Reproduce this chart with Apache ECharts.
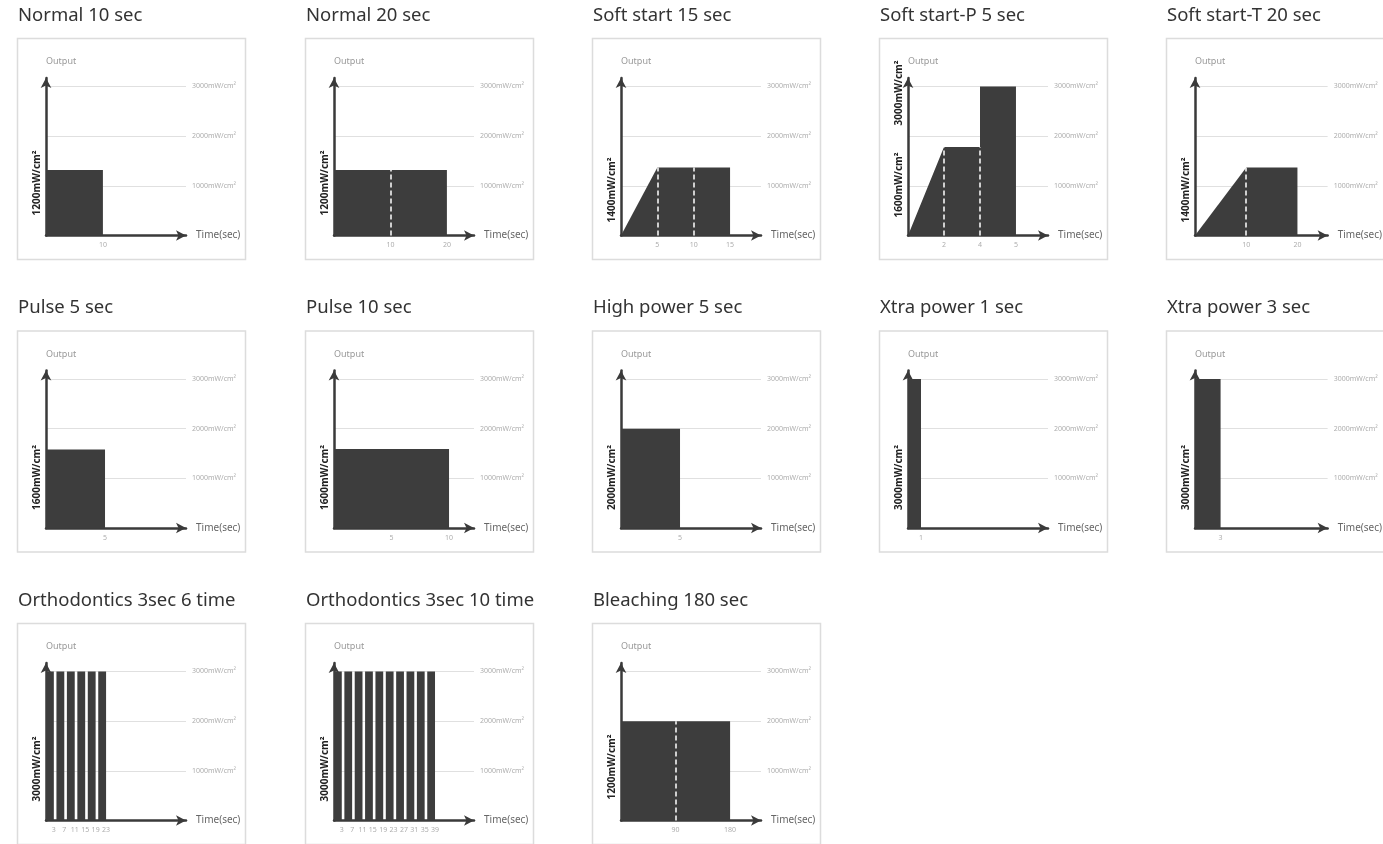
<!DOCTYPE html>
<html><head><meta charset="utf-8">
<script src="https://cdn.jsdelivr.net/npm/echarts@6/dist/echarts.min.js"></script>
<style>html,body{margin:0;padding:0;background:#fff}#c{width:1383px;height:844px}</style>
</head><body><div id="c"></div>
<script>
// ---- titles ----
const titles = ['Normal 10 sec','Normal 20 sec','Soft start 15 sec','Soft start-P 5 sec','Soft start-T 20 sec',
  'Pulse 5 sec','Pulse 10 sec','High power 5 sec','Xtra power 1 sec','Xtra power 3 sec',
  'Orthodontics 3sec 6 time','Orthodontics 3sec 10 time','Bleaching 180 sec'];

// ---- output profiles [time, mW/cm²] as drawn ----
const normal10 = [[0,1320],[10,1320]];
const normal20 = [[0,1320],[20,1320]];
const softStart15 = [[0,0],[5,1370],[15,1370]];
const softStartP = [[0,0],[2,1780],[4,1780],[4,3000],[6,3000]]; // drawn positions (last step drawn wider)
const softStartT = [[0,0],[10,1370],[20,1370]];
const pulse5 = [[0,1580],[5,1580]];
const pulse10 = [[0,1590],[10,1590]];
const highPower5 = [[0,2000],[5,2000]];
const xtra1 = [[0,3000],[1,3000]];
const xtra3 = [[0,3000],[3,3000]];
const ortho6Pulses = [[0,3],[4,7],[8,11],[12,15],[16,19],[20,23]];
const ortho10Pulses = [[0,3],[4,7],[8,11],[12,15],[16,19],[20,23],[24,27],[28,31],[32,35],[36,39]];
const orthoLevel = 3000;
const bleaching180 = [[0,2000],[180,2000]];

// ---- tick positions and labels ----
const normal10Ticks = [10];
const normal20Ticks = [10,20];
const softStart15Ticks = [5,10,15];
const softStartPTicks = [2,4,6];
const softStartPTickLabels = ['2','4','5'];
const softStartTTicks = [10,20];
const pulse5Ticks = [5];
const pulse10Ticks = [5,10];
const highPower5Ticks = [5];
const xtra1Ticks = [1];
const xtra3Ticks = [3];
const ortho6Ticks = [3,7,11,15,19,23];
const ortho10Ticks = [3,7,11,15,19,23,27,31,35,39];
const bleachingTicks = [90,180];

// ---- dashed segment dividers [time, top value] ----
const normal20Dashes = [[10,1320]];
const softStart15Dashes = [[5,1370],[10,1370]];
const softStartPDashes = [[2,1780],[4,1780]];
const softStartTDashes = [[10,1370]];
const bleachingDashes = [[90,2000]];

// ---- power labels ----
const powerLabels = ['1200mW/cm²','1200mW/cm²','1400mW/cm²',['1600mW/cm²','3000mW/cm²'],'1400mW/cm²',
  '1600mW/cm²','1600mW/cm²','2000mW/cm²','3000mW/cm²','3000mW/cm²','3000mW/cm²','3000mW/cm²','1200mW/cm²'];

const gridValues = [1000,2000,3000];

// each pulse becomes its own rectangle profile
function pulsesToProfiles(pulses, level){
  return pulses.map(p => [[p[0], level], [p[1], level]]);
}

const panels = [
  {profiles: [normal10], ticks: normal10Ticks, xMax: 24.6, dashes: [], lab: [20]},
  {profiles: [normal20], ticks: normal20Ticks, xMax: 24.8, dashes: normal20Dashes, lab: [20]},
  {profiles: [softStart15], ticks: softStart15Ticks, xMax: 19.26, dashes: softStart15Dashes, lab: [13]},
  {profiles: [softStartP], ticks: softStartPTicks, tickLabels: softStartPTickLabels, xMax: 7.78, dashes: softStartPDashes, lab: [18, 110]},
  {profiles: [softStartT], ticks: softStartTTicks, xMax: 25.9, dashes: softStartTDashes, lab: [13]},
  {profiles: [pulse5], ticks: pulse5Ticks, xMax: 11.86, dashes: [], lab: [18]},
  {profiles: [pulse10], ticks: pulse10Ticks, xMax: 12.17, dashes: [], lab: [18]},
  {profiles: [highPower5], ticks: highPower5Ticks, xMax: 11.86, dashes: [], lab: [18]},
  {profiles: [xtra1], ticks: xtra1Ticks, xMax: 10.77, dashes: [], lab: [18]},
  {profiles: [xtra3], ticks: xtra3Ticks, xMax: 15.55, dashes: [], lab: [18]},
  {profiles: pulsesToProfiles(ortho6Pulses, orthoLevel), ticks: ortho6Ticks, xMax: 53.6, dashes: [], lab: [19]},
  {profiles: pulsesToProfiles(ortho10Pulses, orthoLevel), ticks: ortho10Ticks, xMax: 54.05, dashes: [], lab: [19]},
  {profiles: [bleaching180], ticks: bleachingTicks, xMax: 231, dashes: bleachingDashes, lab: [21]}
];

const colLeft = [17,305,592,879,1166];
const rowTop = [38,330.5,623];
const FONT = '"Noto Sans", "DejaVu Sans", sans-serif';
const AXIS = '#3a3a3a';
const FILL = '#3d3d3d';
const YMAX = 3170;

const grid = [], xAxis = [], yAxis = [], series = [], graphic = [];

panels.forEach((p, i) => {
  const L = colLeft[i % 5], T = rowTop[Math.floor(i / 5)];
  const axisY = T + 197.5;
  grid.push({left: L + 29, top: T + 40, width: 140, height: 157.5});
  xAxis.push({
    type: 'value', gridIndex: i, min: 0, max: p.xMax,
    axisLine: {show: true, onZero: false, symbol: ['none','arrow'], symbolSize: [8,10], lineStyle: {color: AXIS, width: 2.5}},
    axisTick: {show: false}, splitLine: {show: false},
    axisLabel: {
      customValues: p.ticks, color: '#adadad', fontSize: 7, margin: 6, fontFamily: FONT,
      formatter: v => {
        if (p.tickLabels) { const k = p.ticks.indexOf(v); return k >= 0 ? p.tickLabels[k] : ''; }
        return String(v);
      }
    },
    name: 'Time(sec)', nameLocation: 'end', nameGap: 10,
    nameTextStyle: {color: '#666', fontSize: 10, fontFamily: FONT, verticalAlign: 'middle'}
  });
  yAxis.push({
    type: 'value', gridIndex: i, min: 0, max: YMAX, position: 'left',
    axisLine: {show: true, onZero: false, symbol: ['none','arrow'], symbolSize: [8,10], lineStyle: {color: AXIS, width: 2.5}},
    axisTick: {show: false}, axisLabel: {show: false}, splitLine: {show: false},
    name: 'Output', nameLocation: 'end', nameGap: 12,
    nameTextStyle: {color: '#999', fontSize: 9, fontFamily: FONT, align: 'left'}
  });
  yAxis.push({
    type: 'value', gridIndex: i, min: 0, max: YMAX, interval: 1000, position: 'right',
    axisLine: {show: false}, axisTick: {show: false},
    axisLabel: {color: '#adadad', fontSize: 7, margin: 6, fontFamily: FONT, showMaxLabel: false, showMinLabel: false,
      formatter: v => gridValues.indexOf(v) >= 0 ? v + 'mW/cm²' : ''},
    splitLine: {show: true, showMinLine: false, showMaxLine: false, lineStyle: {color: '#e0e0e0', width: 1}}
  });
  p.profiles.forEach((prof, k) => {
    series.push({
      type: 'line', xAxisIndex: i, yAxisIndex: 2 * i, data: prof,
      symbol: 'none', silent: true, animation: false, z: 3,
      lineStyle: {width: 0, color: FILL},
      areaStyle: {color: FILL, opacity: 1},
      markLine: k === 0 ? {
        silent: true, animation: false, symbol: ['none','none'],
        label: {show: false},
        lineStyle: {color: '#fff', type: [5,3], width: 1.5},
        emphasis: {disabled: true},
        data: p.dashes.map(d => [{coord: [d[0], 0]}, {coord: [d[0], d[1]]}])
      } : undefined
    });
  });
  // panel box
  graphic.push({type: 'rect', silent: true, shape: {x: L + 0.5, y: T + 0.5, width: 228, height: 221},
    style: {fill: 'none', stroke: '#dcdcdc', lineWidth: 1.5}, z: 0});
  // title
  graphic.push({type: 'text', silent: true, x: L + 1, y: T - 22.5,
    style: {text: titles[i], fill: '#333', font: '18.5px ' + FONT, align: 'left', verticalAlign: 'middle'}});
  // rotated power labels
  const labs = Array.isArray(powerLabels[i]) ? powerLabels[i] : [powerLabels[i]];
  labs.forEach((t, k) => {
    graphic.push({type: 'text', silent: true, x: L + 20.5, y: axisY - p.lab[k], rotation: Math.PI / 2,
      style: {text: t, fill: '#222', font: 'bold 10px ' + FONT, align: 'left', verticalAlign: 'middle'}, z: 10});
  });
});

const chart = echarts.init(document.getElementById('c'), null, {renderer: 'canvas'});
chart.setOption({animation: false, backgroundColor: '#fff', grid, xAxis, yAxis, series, graphic});
</script>
</body></html>
